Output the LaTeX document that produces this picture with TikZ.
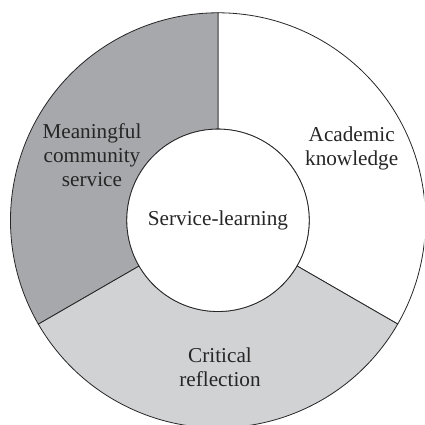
\documentclass[tikz,border=0pt]{standalone}
\usepackage{fontspec}
\setmainfont{Liberation Serif}
\definecolor{ringdark}{HTML}{A7A8AC}
\definecolor{ringlight}{HTML}{D1D2D4}
\begin{document}
\begin{tikzpicture}[x=1pt,y=1pt,
  ringline/.style={draw=black!85,line width=0.8pt},
  lbl/.style={align=center,inner sep=0pt,font=\fontsize{21.2}{24}\selectfont,text=black!85}]
\def\Rout{207.5}
\def\Rin{91.2}
\useasboundingbox (-218,-204.7) rectangle (206,220.3);
\clip (-218,-204.7) rectangle (206,220.3);
% three ring sectors
\path[ringline,fill=white] (90:\Rin) -- (90:\Rout) arc[start angle=90,end angle=-30,radius=\Rout]
  -- (-30:\Rin) arc[start angle=-30,end angle=90,radius=\Rin] -- cycle;
\path[ringline,fill=ringlight] (-30:\Rin) -- (-30:\Rout) arc[start angle=-30,end angle=-150,radius=\Rout]
  -- (-150:\Rin) arc[start angle=-150,end angle=-30,radius=\Rin] -- cycle;
\path[ringline,fill=ringdark] (210:\Rin) -- (210:\Rout) arc[start angle=210,end angle=90,radius=\Rout]
  -- (90:\Rin) arc[start angle=90,end angle=210,radius=\Rin] -- cycle;
% hub
\node[ringline,fill=white,circle,minimum size=2*\Rin,inner sep=0pt,lbl] (hub) at (0,0) {Service-learning};
% sector labels
\node[lbl] (service) at (-126,65) {Meaningful\\community\\service};
\node[lbl] (academic) at (133.7,72) {Academic\\knowledge};
\node[lbl] (reflect) at (2,-147) {Critical\\reflection};
\end{tikzpicture}
\end{document}
